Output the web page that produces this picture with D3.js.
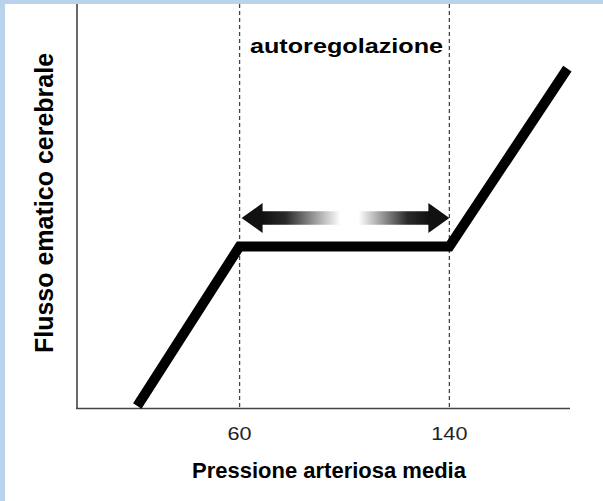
<!DOCTYPE html>
<html><head><meta charset="utf-8">
<script src="https://cdn.jsdelivr.net/npm/d3@7"></script>
<style>html,body{margin:0;padding:0;background:#b9d3ec;}svg{display:block;}</style>
</head><body>
<script>
// Data
const curveX = [21, 60, 140, 185];
const curveY = [0.5, 40, 40, 84];
const tickValues = [60, 140];
const tickLabels = ["60", "140"];
const bounds = [60, 140];
const xTitle = "Pressione arteriosa media";
const yTitle = "Flusso ematico cerebrale";
const bandLabel = "autoregolazione";

const W = 603, H = 501;
const FONT = "Liberation Sans, Arial, sans-serif";
const svg = d3.select("body").append("svg").attr("width", W).attr("height", H);
svg.append("rect").attr("width", W).attr("height", H).attr("fill", "#b9d3ec");
svg.append("rect").attr("x", 5).attr("y", 4).attr("width", W - 5).attr("height", H - 4).attr("fill", "#fff");

const x = d3.scaleLinear().domain([-2, 186]).range([77, 570]);
const y = d3.scaleLinear().domain([0, 100]).range([408, 4]);

// vertical dashed lines
svg.selectAll(".vl").data(bounds).join("line")
  .attr("x1", d => x(d)).attr("x2", d => x(d))
  .attr("y1", 4).attr("y2", 408)
  .attr("stroke", "#444").attr("stroke-width", 1.3).attr("stroke-dasharray", "4,3");

// axes
svg.append("line").attr("x1", 77).attr("x2", 77).attr("y1", 4).attr("y2", 409)
  .attr("stroke", "#444").attr("stroke-width", 1.6);
svg.append("line").attr("x1", 76.2).attr("x2", 570).attr("y1", 408.5).attr("y2", 408.5)
  .attr("stroke", "#444").attr("stroke-width", 1.6);

// tick labels (slightly stretched horizontally like the reference)
svg.selectAll(".tl").data(tickValues).join("text")
  .attr("transform", d => `translate(${x(d)},440) scale(1.2,1)`)
  .attr("text-anchor", "middle")
  .attr("font-family", FONT)
  .attr("font-size", 18).attr("fill", "#222")
  .text((d, i) => tickLabels[i]);

// gradient arrow
const ay = 218, sh = 6.7, hh = 15, hl = 21;
const lx = x(60) + 2, rx = x(140), mx = x(100) + 4;
const defs = svg.append("defs");
const gL = defs.append("linearGradient").attr("id", "gl").attr("gradientUnits", "userSpaceOnUse")
  .attr("x1", lx + hl).attr("x2", mx - 8).attr("y1", 0).attr("y2", 0);
gL.append("stop").attr("offset", "0").attr("stop-color", "#111");
gL.append("stop").attr("offset", "0.3").attr("stop-color", "#2a2a2a");
gL.append("stop").attr("offset", "1").attr("stop-color", "#fff");
const gR = defs.append("linearGradient").attr("id", "gr").attr("gradientUnits", "userSpaceOnUse")
  .attr("x1", mx + 10).attr("x2", rx - hl).attr("y1", 0).attr("y2", 0);
gR.append("stop").attr("offset", "0").attr("stop-color", "#fff");
gR.append("stop").attr("offset", "0.7").attr("stop-color", "#2a2a2a");
gR.append("stop").attr("offset", "1").attr("stop-color", "#111");

svg.append("path")
  .attr("d", `M${lx},${ay} L${lx + hl},${ay - hh} L${lx + hl},${ay - sh} L${mx},${ay - sh} L${mx},${ay + sh} L${lx + hl},${ay + sh} L${lx + hl},${ay + hh} Z`)
  .attr("fill", "url(#gl)");
svg.append("path")
  .attr("d", `M${rx},${ay} L${rx - hl},${ay - hh} L${rx - hl},${ay - sh} L${mx},${ay - sh} L${mx},${ay + sh} L${rx - hl},${ay + sh} L${rx - hl},${ay + hh} Z`)
  .attr("fill", "url(#gr)");

// curve
const pts = curveX.map((d, i) => [x(d), y(curveY[i])]);
svg.append("path").attr("d", d3.line()(pts))
  .attr("fill", "none").attr("stroke", "#000").attr("stroke-width", 10)
  .attr("stroke-linejoin", "miter").attr("stroke-linecap", "butt");

// labels
svg.append("text").attr("transform", `translate(${(x(60) + x(140)) / 2 + 2},53) scale(1.2,1)`)
  .attr("text-anchor", "middle")
  .attr("font-family", FONT).attr("font-weight", "bold")
  .attr("font-size", 21).attr("fill", "#000").text(bandLabel);
svg.append("text").attr("x", 329).attr("y", 478).attr("text-anchor", "middle")
  .attr("font-family", FONT).attr("font-weight", "bold")
  .attr("font-size", 22).attr("fill", "#000").text(xTitle);
svg.append("text").attr("transform", "translate(53,203) rotate(-90)").attr("text-anchor", "middle")
  .attr("font-family", FONT).attr("font-weight", "bold")
  .attr("font-size", 25).attr("fill", "#000").text(yTitle);
</script>
</body></html>
